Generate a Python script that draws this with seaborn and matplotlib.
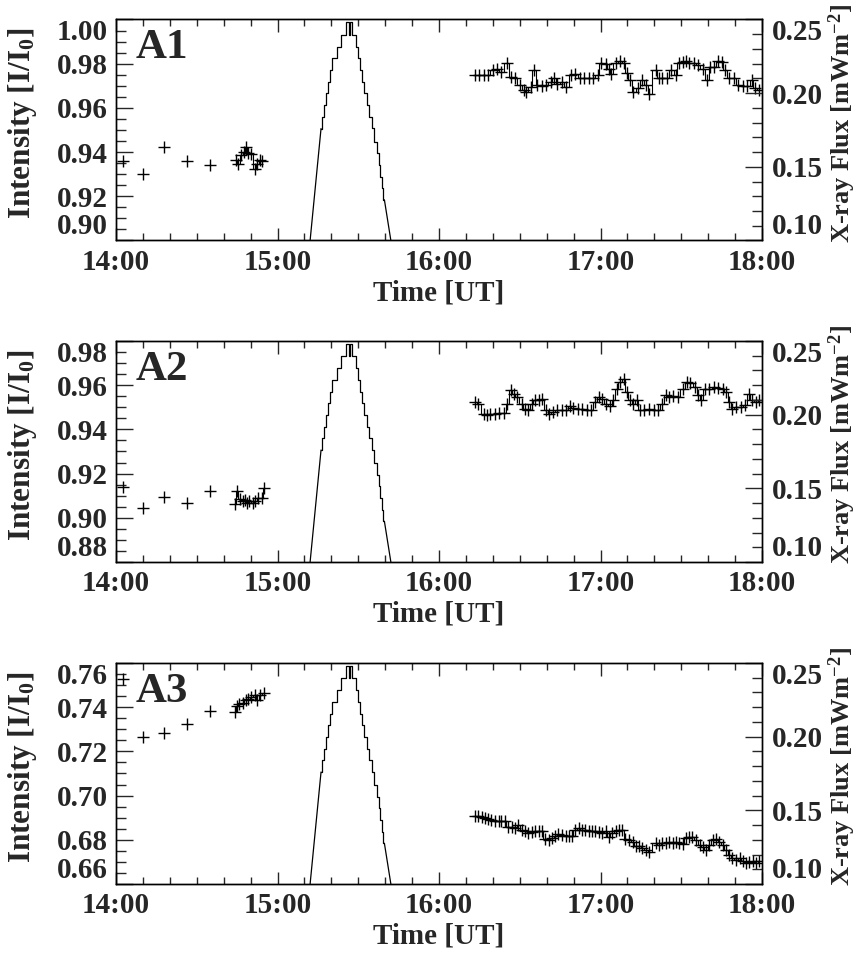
import matplotlib
matplotlib.use("Agg")
import numpy as np
import matplotlib.pyplot as plt
import seaborn as sns
from matplotlib.ticker import FixedLocator, MultipleLocator, FuncFormatter, FormatStrFormatter

# ---------------- data (time in minutes after 14:00 UT) ----------------
sparse_t = [2.5, 10.1, 17.9, 26.2, 35.0]

a1_sparse = [0.9360, 0.9299, 0.9423, 0.9358, 0.9340]
a1_t1 = [44.5, 45.3, 46.5, 47.5, 48.3, 49.1, 50.3, 51.5, 52.4, 53.6, 54.4]
a1_v1 = [0.9363, 0.9344, 0.9385, 0.9400, 0.9423, 0.9396, 0.9393, 0.9325, 0.9347, 0.9363, 0.9360]
a1_t2 = [133.3, 134.9, 136.6, 138.3, 139.9, 141.6, 143.2, 145.2, 146.6, 148.2, 149.9, 151.5,
         152.4, 154.0, 155.4, 156.5, 158.2, 159.8, 161.5, 162.7, 164.0, 165.6, 167.3, 169.0,
         170.6, 172.3, 173.9, 175.6, 177.3, 178.9, 180.2, 181.9, 183.1, 183.9, 185.6, 187.2,
         188.6, 189.7, 190.9, 192.2, 193.9, 195.5, 196.9, 198.0, 200.5, 201.8, 203.0, 204.7,
         206.3, 208.0, 209.1, 210.5, 211.8, 212.9, 214.6, 216.3, 217.9, 219.6, 220.8, 222.1,
         223.7, 225.1, 226.2, 227.9, 229.5, 231.2, 232.9, 234.5, 236.2, 237.4, 238.7]
a1_v2 = [0.9748, 0.9748, 0.9748, 0.9748, 0.9770, 0.9778, 0.9763, 0.9801, 0.9740, 0.9737, 0.9702, 0.9680,
         0.9672, 0.9695, 0.9770, 0.9702, 0.9698, 0.9702, 0.9718, 0.9733, 0.9710, 0.9718, 0.9695, 0.9748,
         0.9755, 0.9737, 0.9733, 0.9737, 0.9737, 0.9748, 0.9801, 0.9798, 0.9778, 0.9755, 0.9801, 0.9813,
         0.9801, 0.9758, 0.9725, 0.9672, 0.9692, 0.9725, 0.9702, 0.9665, 0.9770, 0.9733, 0.9733, 0.9737,
         0.9770, 0.9748, 0.9801, 0.9808, 0.9813, 0.9801, 0.9804, 0.9793, 0.9778, 0.9728, 0.9785, 0.9785,
         0.9813, 0.9808, 0.9770, 0.9737, 0.9733, 0.9702, 0.9698, 0.9698, 0.9728, 0.9692, 0.9683]

a2_sparse = [0.9140, 0.9046, 0.9096, 0.9069, 0.9122]
a2_t1 = [44.1, 44.8, 46.1, 47.0, 47.8, 48.6, 49.5, 50.8, 51.6, 52.8, 54.1, 54.8]
a2_v1 = [0.9061, 0.9119, 0.9084, 0.9076, 0.9079, 0.9069, 0.9076, 0.9069, 0.9076, 0.9091, 0.9088, 0.9134]
a2_t2 = [133.3, 134.6, 136.6, 137.8, 139.1, 140.7, 142.4, 144.1, 145.4, 146.6, 147.7, 149.0,
         150.7, 152.0, 153.2, 154.4, 155.7, 157.0, 158.2, 159.8, 161.0, 162.3, 164.0, 165.6,
         167.3, 168.6, 169.8, 171.5, 173.1, 174.8, 176.4, 178.1, 179.3, 180.6, 182.2, 183.6,
         184.7, 186.1, 187.2, 188.6, 189.7, 190.9, 192.2, 193.5, 194.7, 196.3, 198.0, 199.7,
         201.3, 203.0, 204.2, 205.5, 207.1, 208.8, 210.5, 212.1, 213.4, 215.1, 216.3, 217.4,
         218.8, 220.4, 222.1, 223.7, 225.4, 226.7, 227.9, 229.0, 230.4, 232.0, 233.7, 235.0,
         236.2, 237.8, 239.0]
a2_v2 = [0.9524, 0.9516, 0.9471, 0.9463, 0.9471, 0.9471, 0.9474, 0.9474, 0.9516, 0.9577, 0.9562, 0.9547,
         0.9516, 0.9493, 0.9486, 0.9516, 0.9531, 0.9531, 0.9539, 0.9486, 0.9471, 0.9478, 0.9486, 0.9486,
         0.9489, 0.9504, 0.9498, 0.9493, 0.9493, 0.9489, 0.9489, 0.9524, 0.9547, 0.9539, 0.9516, 0.9504,
         0.9531, 0.9584, 0.9615, 0.9630, 0.9569, 0.9531, 0.9516, 0.9534, 0.9486, 0.9486, 0.9493, 0.9489,
         0.9486, 0.9516, 0.9554, 0.9547, 0.9550, 0.9547, 0.9584, 0.9615, 0.9610, 0.9592, 0.9554, 0.9531,
         0.9584, 0.9584, 0.9592, 0.9589, 0.9584, 0.9569, 0.9524, 0.9493, 0.9501, 0.9501, 0.9509, 0.9562,
         0.9531, 0.9524, 0.9531]

a3_sparse = [0.7529, 0.7263, 0.7284, 0.7323, 0.7382]
a3_t1 = [44.1, 44.8, 45.8, 47.0, 48.1, 49.1, 50.3, 51.5, 52.4, 53.6, 54.8]
a3_v1 = [0.7379, 0.7405, 0.7414, 0.7419, 0.7432, 0.7439, 0.7447, 0.7454, 0.7432, 0.7454, 0.7465]
a3_t2 = [133.3, 134.6, 135.8, 137.1, 138.3, 139.4, 140.7, 142.1, 143.2, 144.4, 145.7, 147.1,
         148.2, 149.4, 150.7, 152.0, 153.2, 154.4, 155.7, 157.0, 158.2, 159.3, 160.7, 162.0,
         163.2, 164.3, 165.6, 167.0, 168.1, 169.3, 170.6, 172.0, 173.1, 174.3, 175.6, 176.9,
         178.1, 179.3, 180.6, 181.9, 183.1, 184.2, 185.6, 186.9, 188.1, 189.2, 190.5, 191.9,
         193.0, 194.2, 195.5, 196.9, 198.0, 200.5, 201.8, 203.0, 204.2, 205.5, 206.8, 208.0,
         209.1, 210.5, 211.8, 212.9, 214.1, 215.4, 216.8, 217.9, 219.1, 220.4, 221.8, 222.9,
         224.1, 225.4, 226.7, 227.9, 229.0, 230.4, 231.7, 232.9, 234.0, 235.3, 236.7, 237.8, 239.0]
a3_v2 = [0.6908, 0.6908, 0.6902, 0.6898, 0.6893, 0.6890, 0.6883, 0.6883, 0.6883, 0.6887, 0.6860, 0.6857,
         0.6853, 0.6868, 0.6845, 0.6838, 0.6830, 0.6833, 0.6838, 0.6838, 0.6838, 0.6803, 0.6800, 0.6808,
         0.6818, 0.6827, 0.6823, 0.6815, 0.6815, 0.6815, 0.6845, 0.6853, 0.6842, 0.6842, 0.6838, 0.6838,
         0.6838, 0.6833, 0.6830, 0.6838, 0.6812, 0.6830, 0.6838, 0.6845, 0.6845, 0.6803, 0.6800, 0.6792,
         0.6773, 0.6770, 0.6763, 0.6752, 0.6743, 0.6785, 0.6778, 0.6785, 0.6785, 0.6792, 0.6785, 0.6788,
         0.6785, 0.6782, 0.6808, 0.6812, 0.6812, 0.6800, 0.6778, 0.6767, 0.6755, 0.6778, 0.6797, 0.6803,
         0.6792, 0.6778, 0.6755, 0.6732, 0.6718, 0.6710, 0.6718, 0.6702, 0.6695, 0.6698, 0.6702, 0.6695,
         0.6702]

# X-ray flux (mW m^-2): first/last points join the stepped light curve from below the axis
flux_t = [72.1, 76.16, 76.65, 77.27, 78.02, 78.76, 79.50, 80.37, 81.99, 83.47, 85.45, 86.69, 87.0,
          87.68, 89.16, 90.03, 90.65, 91.39, 92.14, 93.13, 94.12, 94.99, 95.84, 96.83, 97.57,
          98.07, 98.69, 99.31, 99.7, 102.1]
flux_v = [0.100, 0.1760, 0.1840, 0.1919, 0.1999, 0.2077, 0.2157, 0.2236, 0.2314, 0.2398, 0.2480, 0.2398, 0.2480,
          0.2398, 0.2314, 0.2236, 0.2157, 0.2077, 0.1999, 0.1919, 0.1840, 0.1762, 0.1671, 0.1592, 0.1513,
          0.1434, 0.1355, 0.1276, 0.1276, 0.100]

panels = [
    ("A1", a1_sparse, a1_t1, a1_v1, a1_t2, a1_v2, (0.90, 1.00)),
    ("A2", a2_sparse, a2_t1, a2_v1, a2_t2, a2_v2, (0.88, 0.98)),
    ("A3", a3_sparse, a3_t1, a3_v1, a3_t2, a3_v2, (0.66, 0.76)),
]

# ---------------- style ----------------
sns.set_style("ticks")
plt.rcParams.update({
    "font.family": ["Liberation Serif", "DejaVu Serif"],
    "font.weight": "bold",
    "axes.labelweight": "bold",
    "mathtext.fontset": "custom",
    "mathtext.rm": "Liberation Serif:bold",
    "mathtext.it": "Liberation Serif:bold",
    "mathtext.bf": "Liberation Serif:bold",
    "axes.linewidth": 1.0,
    "axes.edgecolor": "black",
    "xtick.direction": "in",
    "ytick.direction": "in",
})

FS = 21
fig = plt.figure(figsize=(8.57, 9.6), dpi=100)
bottoms = [0.7495, 0.4146, 0.0792]


def hrs(t):
    return [14 + v / 60.0 for v in t]


for (name, sp, t1, v1, t2, v2, ylim), b in zip(panels, bottoms):
    ax = fig.add_axes([0.1354, b, 0.7538, 0.2302])
    ax2 = ax.twinx()

    # X-ray flux (right axis)
    sns.lineplot(x=hrs(flux_t[:2]), y=flux_v[:2], ax=ax2, color="black", lw=0.9,
                 estimator=None, sort=False)
    sns.lineplot(x=hrs(flux_t[1:-1]), y=flux_v[1:-1], ax=ax2, color="black", lw=0.9,
                 estimator=None, sort=False, drawstyle="steps-post")
    sns.lineplot(x=hrs(flux_t[-2:]), y=flux_v[-2:], ax=ax2, color="black", lw=0.9,
                 estimator=None, sort=False)

    # intensity (left axis)
    for tt, vv in ((t1, v1), (t2, v2)):
        sns.lineplot(x=hrs(tt), y=vv, ax=ax, color="black", lw=0.8,
                     estimator=None, sort=False, drawstyle="steps-mid")
        sns.scatterplot(x=hrs(tt), y=vv, ax=ax, color="black", marker="+", s=75,
                        linewidth=1.0)
    sns.scatterplot(x=hrs(sparse_t), y=sp, ax=ax, color="black", marker="+", s=75,
                    linewidth=1.0)

    ax.set_xlim(14, 18)
    ax.set_ylim(*ylim)
    ax2.set_ylim(0.10, 0.25)

    ax.xaxis.set_major_locator(FixedLocator([14, 15, 16, 17, 18]))
    ax.xaxis.set_minor_locator(MultipleLocator(1 / 6))
    ax.xaxis.set_major_formatter(FuncFormatter(lambda v, p: f"{int(round(v))}:00"))
    yt = np.round(np.arange(ylim[0], ylim[1] + 1e-6, 0.02), 2)
    ax.yaxis.set_major_locator(FixedLocator(yt))
    ax.yaxis.set_minor_locator(MultipleLocator(0.005))
    ax.yaxis.set_major_formatter(FormatStrFormatter("%.2f"))
    ax2.yaxis.set_major_locator(FixedLocator([0.10, 0.15, 0.20, 0.25]))
    ax2.yaxis.set_minor_locator(MultipleLocator(0.01))
    ax2.yaxis.set_major_formatter(FormatStrFormatter("%.2f"))

    ax.tick_params(axis="x", which="both", top=True, bottom=True, direction="in",
                   labelsize=FS, pad=6, width=1.0)
    ax.tick_params(axis="x", which="major", length=9)
    ax.tick_params(axis="x", which="minor", length=5)
    ax.tick_params(axis="y", which="both", left=True, right=False, direction="in",
                   labelsize=FS, pad=6, width=1.0)
    ax.tick_params(axis="y", which="major", length=12)
    ax.tick_params(axis="y", which="minor", length=7)
    ax2.tick_params(axis="y", which="both", right=True, left=False, direction="in",
                    labelsize=FS, pad=7, width=1.0)
    ax2.tick_params(axis="y", which="major", length=12)
    ax2.tick_params(axis="y", which="minor", length=7)

    ax.set_xlabel("Time [UT]", fontsize=FS, fontweight="bold")
    ax.xaxis.set_label_coords(0.5, -0.175)
    ax.set_ylabel("Intensity [I/I$_0$]", fontsize=22.5, fontweight="bold")
    ax.yaxis.set_label_coords(-0.119, 0.53)
    ax2.set_ylabel("X-ray Flux [mWm$^{-2}$]", fontsize=19, fontweight="bold")
    ax2.yaxis.set_label_coords(1.100, 0.53)

    ax.text(0.031, 0.824, name, transform=ax.transAxes, fontsize=31,
            fontweight="bold", ha="left", va="baseline")

    # keep end labels inside the axis range as in the original
    lt = ax.yaxis.get_major_ticks()
    lt[0].label1.set_va("bottom")
    lt[-1].label1.set_va("top")
    rt = ax2.yaxis.get_major_ticks()
    rt[0].label2.set_va("bottom")
    rt[-1].label2.set_va("top")

    for s in ax.spines.values():
        s.set_visible(True)
        s.set_linewidth(1.0)

fig.savefig("out.png", dpi=100)
